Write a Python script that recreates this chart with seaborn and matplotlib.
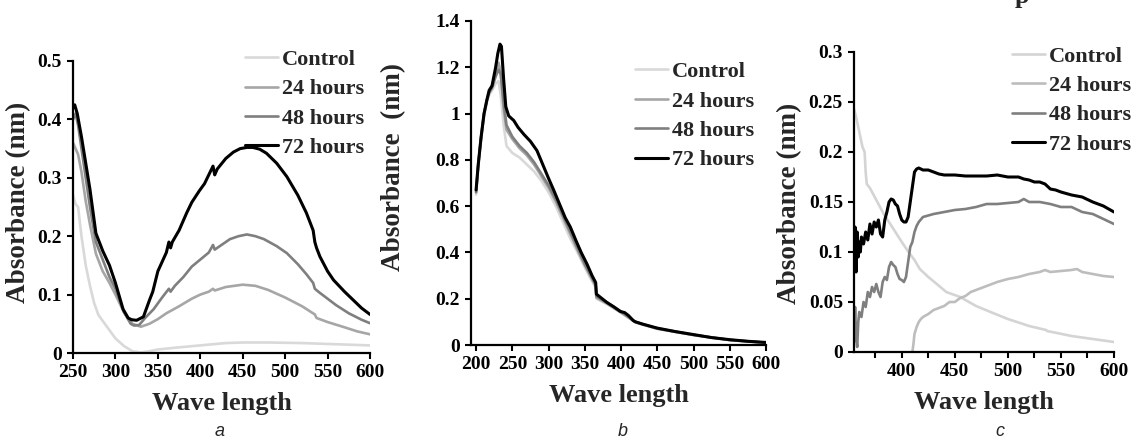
# UV-vis absorbance spectra, three panels (a, b, c) with Control / 24 / 48 / 72 hours.

import pandas as pd
import matplotlib
matplotlib.use("Agg")
import matplotlib.pyplot as plt
from matplotlib.ticker import FuncFormatter, MultipleLocator, FixedLocator
import seaborn as sns

SERIES = ["Control", "24 hours", "48 hours", "72 hours"]

# ---- panel a ----
a_ctrl_x = [250, 253, 256, 260, 265, 270, 275, 280, 290, 300, 310, 320, 330, 340, 350, 370,
            400, 430, 450, 480, 520, 560, 600]
a_ctrl_y = [0.27, 0.255, 0.25, 0.2, 0.15, 0.115, 0.085, 0.065, 0.045, 0.025, 0.012, 0.003,
            0.001, 0.003, 0.006, 0.009, 0.013, 0.017, 0.018, 0.018, 0.017, 0.015, 0.013]
a_24_x = [250, 253, 256, 260, 265, 270, 277, 285, 293, 300, 310, 320, 330, 340, 350, 360, 365,
          375, 390, 400, 410, 415, 417, 430, 450, 465, 480, 500, 520, 535, 537, 550, 570, 585, 600]
a_24_y = [0.36, 0.35, 0.34, 0.31, 0.26, 0.22, 0.17, 0.14, 0.12, 0.1, 0.07, 0.05, 0.045, 0.05,
          0.058, 0.068, 0.072, 0.08, 0.093, 0.1, 0.105, 0.11, 0.107, 0.113, 0.117, 0.115, 0.108,
          0.095, 0.08, 0.066, 0.06, 0.053, 0.044, 0.037, 0.032]
a_48_x = [250, 253, 256, 260, 265, 270, 277, 285, 293, 300, 310, 318, 322, 328, 335, 345, 355,
          363, 365, 370, 380, 390, 400, 410, 415, 417, 425, 435, 445, 455, 465, 475, 490, 502,
          515, 525, 533, 535, 540, 550, 560, 575, 590, 600]
a_48_y = [0.4, 0.41, 0.39, 0.35, 0.3, 0.25, 0.19, 0.16, 0.13, 0.11, 0.07, 0.05, 0.047, 0.048,
          0.06, 0.075, 0.095, 0.11, 0.105, 0.115, 0.13, 0.148, 0.16, 0.172, 0.185, 0.177, 0.185,
          0.195, 0.2, 0.203, 0.2, 0.195, 0.183, 0.171, 0.152, 0.135, 0.12, 0.11, 0.104, 0.093,
          0.082, 0.068, 0.057, 0.051]
a_72_x = [250, 252, 255, 260, 265, 270, 277, 285, 293, 300, 309, 315, 319, 325, 333, 340, 344,
          350, 360, 363, 365, 367, 375, 384, 390, 399, 405, 410, 415, 417, 420, 430, 439, 447,
          455, 462, 470, 478, 490, 502, 515, 525, 533, 535, 537, 541, 550, 557, 570, 580, 590, 600]
a_72_y = [0.42, 0.425, 0.41, 0.37, 0.325, 0.28, 0.205, 0.175, 0.15, 0.12, 0.075, 0.06, 0.057,
          0.056, 0.062, 0.09, 0.105, 0.14, 0.172, 0.19, 0.18, 0.19, 0.21, 0.24, 0.258, 0.278,
          0.29, 0.305, 0.32, 0.305, 0.315, 0.333, 0.344, 0.35, 0.352, 0.352, 0.349, 0.342, 0.325,
          0.302, 0.27, 0.24, 0.21, 0.19, 0.18, 0.165, 0.14, 0.125, 0.105, 0.091, 0.077, 0.066]

# ---- panel b ----
b_72_x = [200, 203, 207, 211, 215, 218, 222, 227, 230, 233, 235, 238, 241, 245, 252, 258, 266,
          275, 284, 292, 300, 307, 315, 323, 330, 338, 345, 353, 360, 365, 366, 372, 380, 390,
          399, 405, 410, 414, 417, 420, 430, 450, 475, 500, 525, 550, 575, 600]
b_72_y = [0.67, 0.78, 0.9, 1.0, 1.06, 1.1, 1.12, 1.2, 1.26, 1.3, 1.29, 1.15, 1.03, 0.99, 0.97,
          0.94, 0.91, 0.88, 0.84, 0.78, 0.72, 0.67, 0.61, 0.55, 0.51, 0.45, 0.4, 0.35, 0.3, 0.27,
          0.22, 0.205, 0.185, 0.165, 0.145, 0.14, 0.128, 0.115, 0.105, 0.1, 0.09, 0.073, 0.058,
          0.045, 0.032, 0.023, 0.016, 0.011]
b_x = [200, 203, 207, 211, 215, 218, 222, 227, 231, 234, 238, 242, 250, 260, 270, 280, 290,
       300, 310, 320, 330, 340, 350, 360, 365, 366, 380, 400, 420, 450, 500, 550, 600]
b_48_y = [0.66, 0.78, 0.9, 1.0, 1.06, 1.09, 1.11, 1.16, 1.19, 1.17, 1.05, 0.95, 0.9, 0.86,
          0.83, 0.79, 0.74, 0.69, 0.63, 0.56, 0.49, 0.42, 0.35, 0.29, 0.26, 0.21, 0.185, 0.145,
          0.1, 0.072, 0.044, 0.022, 0.01]
b_24_y = [0.66, 0.78, 0.9, 1.0, 1.06, 1.09, 1.12, 1.18, 1.22, 1.18, 1.02, 0.93, 0.89, 0.85,
          0.82, 0.78, 0.73, 0.68, 0.62, 0.55, 0.48, 0.41, 0.345, 0.285, 0.255, 0.205, 0.18, 0.14,
          0.098, 0.07, 0.043, 0.021, 0.01]
b_ctrl_y = [0.65, 0.77, 0.89, 0.99, 1.05, 1.08, 1.1, 1.13, 1.14, 1.08, 0.95, 0.86, 0.83, 0.81,
            0.78, 0.75, 0.71, 0.66, 0.6, 0.53, 0.46, 0.4, 0.335, 0.275, 0.25, 0.2, 0.178, 0.14,
            0.097, 0.07, 0.043, 0.021, 0.01]

# ---- panel c ----
c_ctrl_x = [355, 357, 360, 363, 365, 366, 367, 370, 376, 383, 391, 400, 407, 412, 417, 425,
            433, 442, 455, 470, 486, 500, 520, 536, 537, 560, 580, 600]
c_ctrl_y = [0.243, 0.235, 0.22, 0.205, 0.2, 0.18, 0.168, 0.164, 0.152, 0.138, 0.125, 0.11,
            0.099, 0.092, 0.083, 0.075, 0.068, 0.06, 0.055, 0.046, 0.039, 0.033, 0.026, 0.022,
            0.021, 0.016, 0.013, 0.01]
c_24_x = [410, 411, 412, 414, 416, 418, 420, 425, 430, 435, 440, 445, 450, 455, 460, 465, 470,
          480, 490, 500, 510, 520, 530, 535, 540, 550, 560, 565, 570, 580, 590, 600]
c_24_y = [0.0, 0.008, 0.018, 0.025, 0.03, 0.033, 0.035, 0.038, 0.042, 0.044, 0.046, 0.05, 0.05,
          0.054, 0.056, 0.06, 0.062, 0.066, 0.07, 0.073, 0.075, 0.078, 0.08, 0.082, 0.08, 0.081,
          0.082, 0.083, 0.08, 0.078, 0.076, 0.075]
c_48_x = [355, 356, 357, 358, 359, 360, 362, 364, 366, 368, 370, 372, 374, 376, 378, 380, 382,
          384, 386, 388, 390, 392, 394, 396, 398, 400, 402, 404, 406, 408, 410, 412, 414, 416,
          420, 430, 440, 450, 460, 470, 480, 490, 500, 510, 515, 520, 530, 540, 550, 560, 570,
          580, 590, 600]
c_48_y = [0.01, 0.045, 0.015, 0.005, 0.03, 0.04, 0.035, 0.05, 0.045, 0.06, 0.055, 0.065, 0.06,
          0.068, 0.06, 0.055, 0.07, 0.075, 0.072, 0.085, 0.09, 0.087, 0.085, 0.078, 0.073, 0.072,
          0.07, 0.075, 0.09, 0.105, 0.11, 0.12, 0.126, 0.13, 0.135, 0.138, 0.14, 0.142, 0.143,
          0.145, 0.148, 0.148, 0.149, 0.15, 0.153, 0.15, 0.15, 0.148, 0.145, 0.145, 0.14, 0.138,
          0.133, 0.128]
c_72_x = [355, 356, 357, 358, 359, 360, 361, 362, 364, 366, 368, 370, 372, 374, 376, 378, 380,
          382, 384, 386, 388, 390, 392, 394, 396, 398, 400, 402, 404, 406, 408, 410, 412, 414,
          416, 418, 420, 425, 430, 435, 440, 450, 460, 470, 480, 490, 500, 510, 515, 520, 525,
          530, 535, 540, 545, 550, 560, 570, 580, 590, 600]
c_72_y = [0.1, 0.125, 0.08, 0.12, 0.095, 0.11, 0.1, 0.115, 0.108, 0.12, 0.112, 0.128, 0.118,
          0.13, 0.125, 0.132, 0.118, 0.115, 0.132, 0.14, 0.15, 0.153, 0.152, 0.148, 0.146, 0.138,
          0.132, 0.13, 0.13, 0.135, 0.15, 0.165, 0.18, 0.183, 0.184, 0.183, 0.182, 0.182, 0.18,
          0.178, 0.177, 0.177, 0.176, 0.176, 0.176, 0.177, 0.175, 0.175, 0.173, 0.172, 0.17,
          0.17, 0.168, 0.163, 0.162, 0.16, 0.157, 0.155, 0.15, 0.146, 0.14]


def to_long(parts):
    frames = []
    for name, xs, ys in parts:
        frames.append(pd.DataFrame({"wave": xs, "abs": ys, "series": name}))
    return pd.concat(frames, ignore_index=True)


df_a = to_long([("Control", a_ctrl_x, a_ctrl_y), ("24 hours", a_24_x, a_24_y),
                ("48 hours", a_48_x, a_48_y), ("72 hours", a_72_x, a_72_y)])
df_b = to_long([("Control", b_x, b_ctrl_y), ("24 hours", b_x, b_24_y),
                ("48 hours", b_x, b_48_y), ("72 hours", b_72_x, b_72_y)])
df_c = to_long([("Control", c_ctrl_x, c_ctrl_y), ("24 hours", c_24_x, c_24_y),
                ("48 hours", c_48_x, c_48_y), ("72 hours", c_72_x, c_72_y)])

PAL_AB = {"Control": "#d9d9d9", "24 hours": "#a6a6a6", "48 hours": "#7f7f7f", "72 hours": "#000000"}
PAL_C  = {"Control": "#d4d4d4", "24 hours": "#bdbdbd", "48 hours": "#7f7f7f", "72 hours": "#000000"}

sns.set_style("ticks")
plt.rcParams["font.family"] = ["Liberation Serif", "DejaVu Serif"]
plt.rcParams["font.weight"] = "bold"

W, H = 1131, 441
fig = plt.figure(figsize=(W / 100, H / 100), dpi=100)


def add_axes(left, right, top, bottom):
    return fig.add_axes([left / W, 1 - bottom / H, (right - left) / W, (bottom - top) / H])


def fmt(v, pos):
    return f"{v:g}"


def style(ax, df, pal, xlim, ylim, ystep, ylab, ylab_x, ylab_y, leg_xy):
    sns.lineplot(data=df, x="wave", y="abs", hue="series", hue_order=SERIES, palette=pal,
                 estimator=None, sort=True, linewidth=1.9, ax=ax)
    for line in ax.get_lines():
        if line.get_color() in ("#000000", "k"):
            line.set_linewidth(2.2)
    ax.set_xlim(*xlim)
    ax.set_ylim(*ylim)
    ax.yaxis.set_major_locator(MultipleLocator(ystep))
    ax.yaxis.set_major_formatter(FuncFormatter(fmt))
    sns.despine(ax=ax)
    for s in ("left", "bottom"):
        ax.spines[s].set_linewidth(1.6)
        ax.spines[s].set_color("black")
    ax.tick_params(axis="both", which="both", direction="out", length=4, width=1.5,
                   labelsize=14, colors="black", pad=4)
    ax.set_xlabel("Wave length", fontsize=19, fontweight="bold", labelpad=8)
    ax.set_ylabel(ylab, fontsize=19.5, fontweight="bold")
    ax.yaxis.set_label_coords(ylab_x, ylab_y)
    handles, labels = ax.get_legend_handles_labels()
    ax.legend(handles, labels, loc="upper left", bbox_to_anchor=leg_xy, frameon=False,
              borderpad=0, borderaxespad=0, handlelength=1.5, handletextpad=0.15,
              labelspacing=0.4, prop={"family": "Liberation Serif", "weight": "bold", "size": 16})


ax_a = add_axes(73, 370, 61, 353)
style(ax_a, df_a, PAL_AB, (250, 600), (0, 0.5), 0.1, "Absorbance (nm)", -0.14, 0.517, (0.579, 1.04))
ax_a.xaxis.set_major_locator(MultipleLocator(50))

ax_b = add_axes(471, 766, 21, 345)
style(ax_b, df_b, PAL_AB, (193, 600), (0, 1.4), 0.2, "Absorbance  (nm)", -0.22, 0.549, (0.556, 0.875))
ax_b.xaxis.set_major_locator(MultipleLocator(50))

ax_c = add_axes(854, 1114, 52, 352)
style(ax_c, df_c, PAL_C, (355, 600), (0, 0.3), 0.05, "Absorbance (nm)", -0.2, 0.497, (0.608, 1.02))
ax_c.xaxis.set_major_locator(FixedLocator([400, 450, 500, 550, 600]))
ax_c.xaxis.set_minor_locator(FixedLocator([375, 425, 475, 525, 575]))

# panel letters
for cx, letter in [(220, "a"), (623, "b"), (1000, "c")]:
    fig.text(cx / W, 1 - 432 / H, letter, ha="center", va="center", fontsize=13,
             family="Liberation Sans", style="italic", weight="normal")

# clipped caption fragment at the top edge (as in the source image)
fig.text(1022 / W, 1 - 3 / H, "p", ha="center", va="baseline", fontsize=19,
         fontweight="bold")

fig.savefig("out.png", dpi=100)
